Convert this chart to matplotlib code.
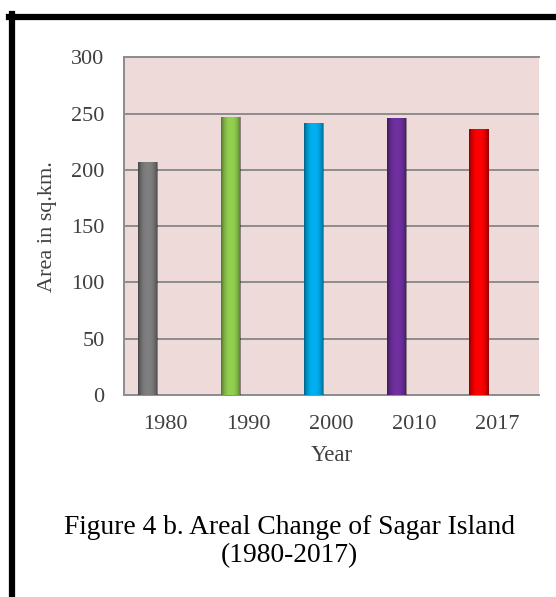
import numpy as np
import matplotlib
matplotlib.use("Agg")
import matplotlib.pyplot as plt
from matplotlib.lines import Line2D

years = ["1980", "1990", "2000", "2010", "2017"]
area = [207, 247, 242, 246.5, 236]
colors = ["#7f7f7f", "#92d050", "#00b0f0", "#7030a0", "#ff0000"]

plt.rcParams['font.family'] = ['Liberation Serif', 'DejaVu Serif']

fig = plt.figure(figsize=(5.56, 5.97), dpi=100)
ax = fig.add_axes([0.223, 0.3384, 0.746, 0.5653])
ax.set_facecolor("#efdada")

x = np.arange(len(years))
# bars sit left of the category centre, as in the source sheet
bars = ax.bar(x - 0.22, area, width=0.23, color=colors, edgecolor="none", zorder=3)

# cylinder shading: darken the bar edges
t = np.linspace(-1, 1, 60)
shade = np.zeros((1, 60, 4))
shade[0, :, 3] = 0.45 * np.abs(t) ** 2.5
for b in bars:
    x0, w, h = b.get_x(), b.get_width(), b.get_height()
    im = ax.imshow(shade, aspect="auto", extent=[x0, x0 + w, 0, h], zorder=4)
    im.set_clip_path(b)

ax.set_xlim(-0.5, len(years) - 0.5)
ax.set_ylim(0, 300)
ax.set_yticks(np.arange(0, 301, 50))
ax.set_xticks(x)
ax.set_xticklabels(years)
ax.yaxis.grid(True, color="#8c8c8c", linewidth=1.4, zorder=1)
ax.tick_params(length=0, labelsize=16, colors="#404040")
ax.tick_params(axis="x", pad=14.5)
ax.tick_params(axis="y", pad=14)
for s in ["left", "top", "bottom"]:
    ax.spines[s].set_color("#8c8c8c")
    ax.spines[s].set_linewidth(1.4)
ax.spines["right"].set_visible(False)

ax.set_xlabel("Year", fontsize=16.5, color="#404040", labelpad=7.5)
ax.set_ylabel("Area in sq.km.", fontsize=16, color="#404040", labelpad=10)

# page border (left and top only)
fig.add_artist(Line2D([11.5 / 556, 11.5 / 556], [0, 1 - 14 / 597], color="black", linewidth=4.5))
fig.add_artist(Line2D([9 / 556, 1], [1 - 16.5 / 597, 1 - 16.5 / 597], color="black", linewidth=4.5))

fig.text(289 / 556, 1 - 527 / 597, "Figure 4 b. Areal Change of Sagar Island",
         ha="center", va="center", fontsize=19.8)
fig.text(289 / 556, 1 - 556 / 597, "(1980-2017)",
         ha="center", va="center", fontsize=19.8)

plt.savefig("out.png", dpi=100)
